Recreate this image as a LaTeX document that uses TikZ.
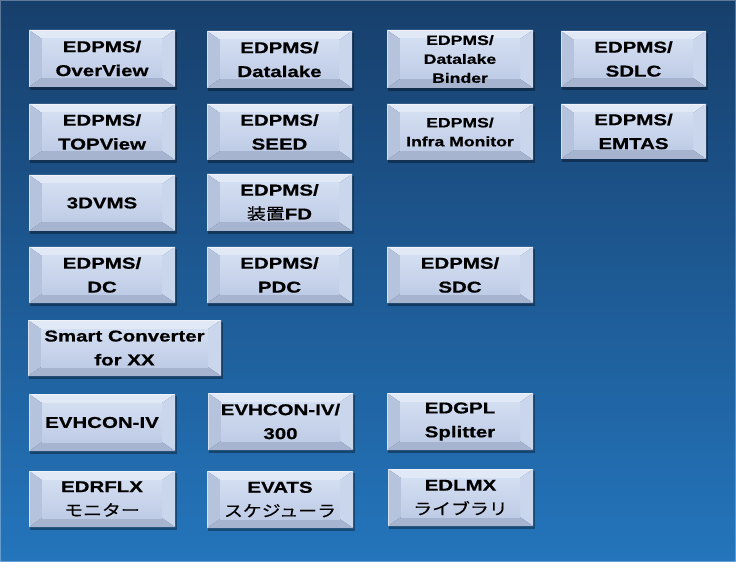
\documentclass[tikz,border=0pt]{standalone}
\usepackage{fontspec}
\setmainfont[FakeStretch=1.3,BoldFeatures={FakeStretch=1.3,FakeBold=0.6}]{Liberation Sans}
\newfontfamily\jp[FakeStretch=1.2,FakeBold=0.4]{Noto Sans CJK JP}
\definecolor{bgtop}{HTML}{173F6C}
\definecolor{bgbot}{HTML}{2475BC}
\definecolor{bevtop}{HTML}{E2E9F6}
\definecolor{bevleft}{HTML}{B6C3DD}
\definecolor{bevright}{HTML}{CAD6EC}
\definecolor{bevbot}{HTML}{A6B4D0}
\definecolor{facetop}{HTML}{D3DEF1}
\definecolor{facebot}{HTML}{BFCCE6}
\tikzset{
  boxtext/.style={align=center,inner sep=0pt,text=black,
    font=\bfseries\fontsize{15.8}{24}\selectfont},
  smalltext/.style={boxtext,font=\bfseries\fontsize{13.6}{19}\selectfont}
}
% #1 name, #2 x1, #3 y1, #4 x2, #5 y2, #6 style, #7 text
\newcommand\bevbox[7]{%
  \fill[black,opacity=0.35] (#2+1,#3+2) rectangle (#4+2,#5+3);
  \fill[bevtop] (#2,#3) -- (#4,#3) -- (#4-13,#3+9) -- (#2+13,#3+9) -- cycle;
  \fill[bevleft] (#2,#3) -- (#2+13,#3+9) -- (#2+13,#5-9) -- (#2,#5) -- cycle;
  \fill[bevright] (#4,#3) -- (#4,#5) -- (#4-13,#5-9) -- (#4-13,#3+9) -- cycle;
  \fill[bevbot] (#2,#5) -- (#2+13,#5-9) -- (#4-13,#5-9) -- (#4,#5) -- cycle;
  \shade[top color=facetop,bottom color=facebot] (#2+13,#3+9) rectangle (#4-13,#5-9);
  \draw[white,opacity=0.5,line width=0.6] (#2,#5) -- (#2,#3) -- (#4,#3);
  \node[#6] (#1) at ({(#2+#4)/2},{(#3+#5)/2}) {#7};
}
\begin{document}
\begin{tikzpicture}[x=1bp,y=-1bp]
\useasboundingbox (0,0) rectangle (736,562);
\shade[top color=bgtop,bottom color=bgbot] (0,0) rectangle (736,562);
\draw[color=white,opacity=0.3,line width=1] (0.5,0.5) rectangle (735.5,561.5);
% row 1
\bevbox{overview}{29}{30}{175}{87}{boxtext}{EDPMS/\\OverView}
\bevbox{datalake}{207}{31}{352}{88}{boxtext}{EDPMS/\\Datalake}
\bevbox{binder}{387}{30}{533}{88}{smalltext}{EDPMS/\\Datalake\\Binder}
\bevbox{sdlc}{561}{31}{706}{87}{boxtext}{EDPMS/\\SDLC}
% row 2
\bevbox{topview}{29}{104}{175}{160}{boxtext}{EDPMS/\\TOPView}
\bevbox{seed}{207}{104}{352}{160}{boxtext}{EDPMS/\\SEED}
\bevbox{infra}{387}{104}{533}{160}{smalltext}{EDPMS/\\Infra Monitor}
\bevbox{emtas}{561}{104}{706}{159}{boxtext}{EDPMS/\\EMTAS}
% row 3
\bevbox{dvms}{29}{175}{175}{231}{boxtext}{3DVMS}
\bevbox{fd}{207}{174}{352}{231}{boxtext}{EDPMS/\\{\jp\mdseries 装置}FD}
% row 4
\bevbox{dc}{29}{247}{175}{303}{boxtext}{EDPMS/\\DC}
\bevbox{pdc}{207}{247}{352}{303}{boxtext}{EDPMS/\\PDC}
\bevbox{sdc}{387}{247}{533}{303}{boxtext}{EDPMS/\\SDC}
% row 5
\bevbox{smart}{28}{320}{221}{376}{boxtext}{Smart Converter\\for XX}
% row 6
\bevbox{evhcon}{29}{394}{175}{451}{boxtext}{EVHCON-IV}
\bevbox{evhcon300}{208}{393}{353}{450}{boxtext}{EVHCON-IV/\\300}
\bevbox{edgpl}{387}{393}{533}{450}{boxtext}{EDGPL\\Splitter}
% row 7
\bevbox{edrflx}{29}{471}{175}{527}{boxtext}{EDRFLX\\{\jp\mdseries モニター}}
\bevbox{evats}{207}{471}{353}{528}{boxtext}{EVATS\\{\jp\mdseries スケジューラ}}
\bevbox{edlmx}{388}{469}{533}{526}{boxtext}{EDLMX\\{\jp\mdseries ライブラリ}}
\end{tikzpicture}
\end{document}
